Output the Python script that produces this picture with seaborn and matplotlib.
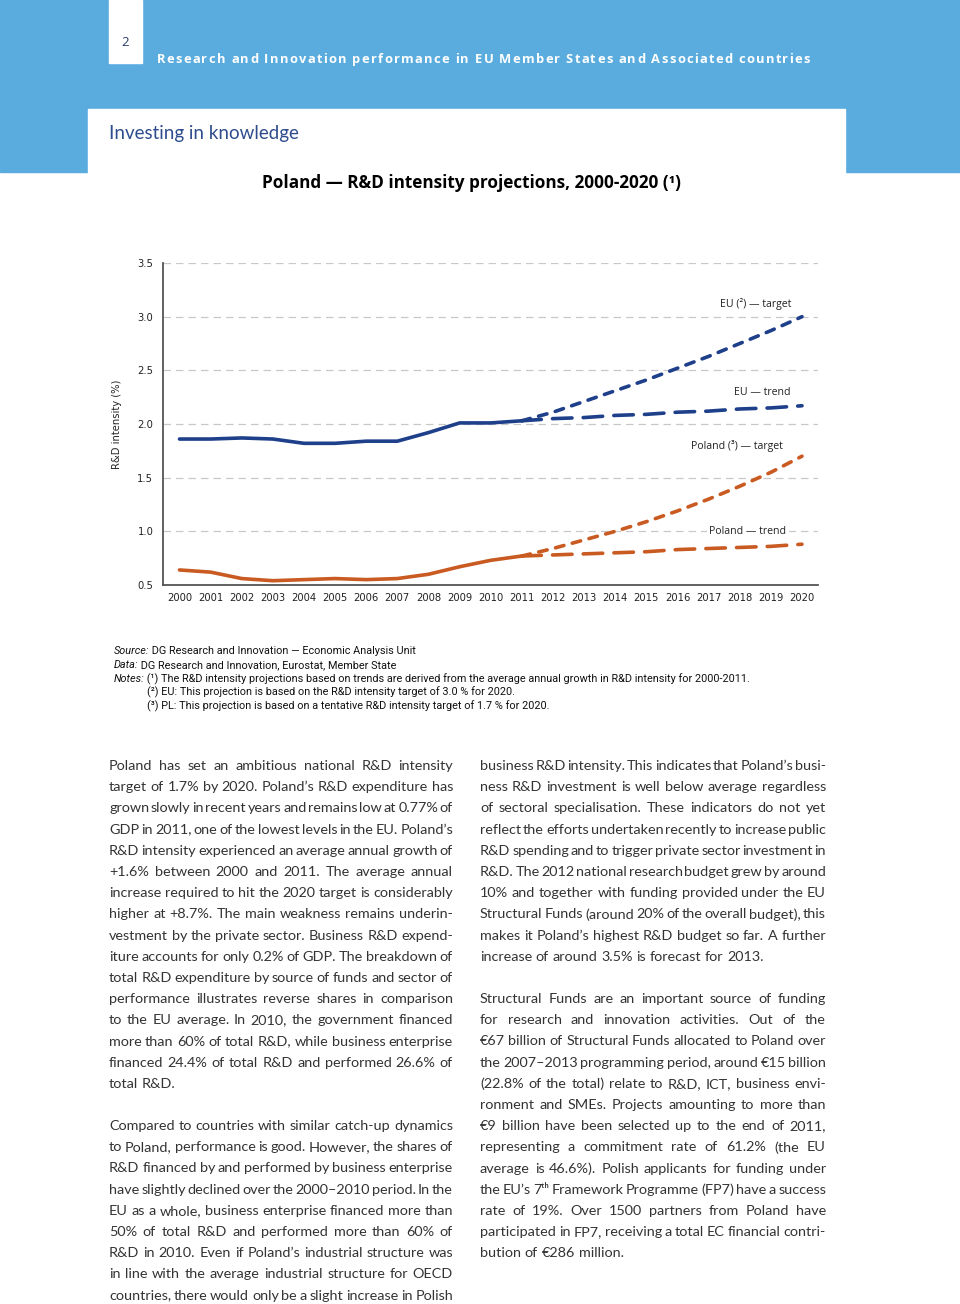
import matplotlib
matplotlib.use("Agg")
import matplotlib.pyplot as plt
from matplotlib.patches import Rectangle
import seaborn as sns
import pandas as pd

# ---------------- data ----------------
hist_years = list(range(2000, 2012))
proj_years = list(range(2011, 2021))
all_years = list(range(2000, 2021))
eu_hist = [1.86, 1.86, 1.87, 1.86, 1.82, 1.82, 1.84, 1.84, 1.92, 2.01, 2.01, 2.03]
pl_hist = [0.64, 0.62, 0.56, 0.54, 0.55, 0.56, 0.55, 0.56, 0.60, 0.67, 0.73, 0.77]
eu_target = [2.03, 2.11, 2.21, 2.31, 2.41, 2.52, 2.63, 2.75, 2.87, 3.00]
eu_trend = [2.03, 2.05, 2.06, 2.08, 2.09, 2.11, 2.12, 2.14, 2.15, 2.17]
pl_target = [0.77, 0.84, 0.92, 1.00, 1.09, 1.19, 1.30, 1.42, 1.55, 1.70]
pl_trend = [0.77, 0.78, 0.79, 0.80, 0.81, 0.83, 0.84, 0.85, 0.86, 0.88]
y_ticks = [0.5, 1.0, 1.5, 2.0, 2.5, 3.0, 3.5]
y_tick_labels = ["0.5", "1.0", "1.5", "2.0", "2.5", "3.0", "3.5"]
x_tick_labels = [str(y) for y in all_years]

series_labels = [
    ("EU (²) — target", 2019.65, 3.12),
    ("EU — trend", 2019.62, 2.29),
    ("Poland (³) — target", 2019.4, 1.795),
    ("Poland — trend", 2019.5, 1.00),
]

header_text = "Research and Innovation performance in EU Member States and Associated countries"
section_title = "Investing in knowledge"
chart_title = "Poland — R&D intensity projections, 2000-2020 (¹)"

left_col = [
    ["Poland has set an ambitious national R&D intensity",
     "target of 1.7% by 2020. Poland’s R&D expenditure has",
     "grown slowly in recent years and remains low at 0.77% of",
     "GDP in 2011, one of the lowest levels in the EU. Poland’s",
     "R&D intensity experienced an average annual growth of",
     "+1.6% between 2000 and 2011. The average annual",
     "increase required to hit the 2020 target is considerably",
     "higher at +8.7%. The main weakness remains underin-",
     "vestment by the private sector. Business R&D expend-",
     "iture accounts for only 0.2% of GDP. The breakdown of",
     "total R&D expenditure by source of funds and sector of",
     "performance illustrates reverse shares in comparison",
     "to the EU average. In 2010, the government financed",
     "more than 60% of total R&D, while business enterprise",
     "financed 24.4% of total R&D and performed 26.6% of",
     "total R&D."],
    ["Compared to countries with similar catch-up dynamics",
     "to Poland, performance is good. However, the shares of",
     "R&D financed by and performed by business enterprise",
     "have slightly declined over the 2000–2010 period. In the",
     "EU as a whole, business enterprise financed more than",
     "50% of total R&D and performed more than 60% of",
     "R&D in 2010. Even if Poland’s industrial structure was",
     "in line with the average industrial structure for OECD",
     "countries, there would only be a slight increase in Polish"],
]
right_col = [
    ["business R&D intensity. This indicates that Poland’s busi-",
     "ness R&D investment is well below average regardless",
     "of sectoral specialisation. These indicators do not yet",
     "reflect the efforts undertaken recently to increase public",
     "R&D spending and to trigger private sector investment in",
     "R&D. The 2012 national research budget grew by around",
     "10% and together with funding provided under the EU",
     "Structural Funds (around 20% of the overall budget), this",
     "makes it Poland’s highest R&D budget so far. A further",
     "increase of around 3.5% is forecast for 2013."],
    ["Structural Funds are an important source of funding",
     "for research and innovation activities. Out of the",
     "€67 billion of Structural Funds allocated to Poland over",
     "the 2007–2013 programming period, around €15 billion",
     "(22.8% of the total) relate to R&D, ICT, business envi-",
     "ronment and SMEs. Projects amounting to more than",
     "€9 billion have been selected up to the end of 2011,",
     "representing a commitment rate of 61.2% (the EU",
     "average is 46.6%). Polish applicants for funding under",
     "the EU’s 7ᵗʰ Framework Programme (FP7) have a success",
     "rate of 19%. Over 1500 partners from Poland have",
     "participated in FP7, receiving a total EC financial contri-",
     "bution of €286 million."],
]
notes = [
    [("Source:", True), (" DG Research and Innovation — Economic Analysis Unit", False)],
    [("Data:", True), (" DG Research and Innovation, Eurostat, Member State", False)],
    [("Notes:", True), (" (¹) The R&D intensity projections based on trends are derived from the average annual growth in R&D intensity for 2000-2011.", False)],
    [("(²) EU: This projection is based on the R&D intensity target of 3.0 % for 2020.", False)],
    [("(³) PL: This projection is based on a tentative R&D intensity target of 1.7 % for 2020.", False)],
]

# ---------------- styles ----------------
BLUE_BG = "#5AACDF"
EU_C = "#1E3F8A"
PL_C = "#C95A21"
NAVY = "#2E4C8E"
BODY_C = "#333333"

sns.set_style("white")
plt.rcParams["font.family"] = ["Lato", "DejaVu Sans"]

W, H = 960, 1304
fig = plt.figure(figsize=(W / 100, H / 100), dpi=100)
renderer = fig.canvas.get_renderer()


def fx(x):
    return x / W


def fy(y):
    return 1 - y / H


def measure(s, **kw):
    t = fig.text(0, 0, s, **kw)
    w = t.get_window_extent(renderer).width
    t.remove()
    return w


def advance(s, **kw):
    return measure("H" + s + "H", **kw) - measure("HH", **kw)


# ---------------- background ----------------
fig.patches.append(Rectangle((0, fy(172)), 1, 172 / H, transform=fig.transFigure,
                             color=BLUE_BG, zorder=0))
fig.patches.append(Rectangle((fx(88), fy(173)), (845 - 88) / W, (173 - 109) / H,
                             transform=fig.transFigure, color="white", zorder=1))
fig.patches.append(Rectangle((fx(109), fy(63)), 33 / W, 63 / H,
                             transform=fig.transFigure, color="white", zorder=1))
fig.text(fx(125.5), fy(43), "2", ha="center", va="center", fontsize=9.5,
         color="#2b3f6a", family=["Open Sans", "DejaVu Sans"], zorder=3)

# tracked header
hdr_kw = dict(fontsize=9.3, fontweight="bold", family=["Open Sans", "DejaVu Sans"])
adv_cache = {}
base = measure("HH", **hdr_kw)
for ch in set(header_text):
    adv_cache[ch] = measure("H" + ch + "H", **hdr_kw) - base
total = sum(adv_cache[c] for c in header_text)
track = (810 - 157 - total) / (len(header_text) - 1)
x = 157
for ch in header_text:
    if ch != " ":
        fig.text(fx(x), fy(59.5), ch, ha="left", va="center", color="white", zorder=3, **hdr_kw)
    x += adv_cache[ch] + track

# section title
st_kw = dict(fontweight="normal", family=["Lato", "DejaVu Sans"])
st_size = 15 * 190 / measure(section_title, fontsize=15, **st_kw)
fig.text(fx(109), fy(134), section_title, ha="left", va="center", color=NAVY,
         fontsize=st_size, zorder=3, **st_kw)

# chart title
ct_kw = dict(fontweight="bold", family=["Open Sans", "DejaVu Sans"])
ct_size = 11 * 418 / measure(chart_title, fontsize=11, **ct_kw)
fig.text(fx(471), fy(183), chart_title, ha="center", va="center", color="black",
         fontsize=ct_size, **ct_kw)

# ---------------- chart ----------------
ax = fig.add_axes([163 / W, 1 - 585 / H, 655 / W, 322 / H])
frames = [
    pd.DataFrame({"year": hist_years, "value": eu_hist, "series": "EU"}),
    pd.DataFrame({"year": proj_years, "value": eu_trend, "series": "EU trend"}),
    pd.DataFrame({"year": proj_years, "value": eu_target, "series": "EU target"}),
    pd.DataFrame({"year": hist_years, "value": pl_hist, "series": "Poland"}),
    pd.DataFrame({"year": proj_years, "value": pl_trend, "series": "Poland trend"}),
    pd.DataFrame({"year": proj_years, "value": pl_target, "series": "Poland target"}),
]
df = pd.concat(frames, ignore_index=True)
palette = {"EU": EU_C, "EU trend": EU_C, "EU target": EU_C,
           "Poland": PL_C, "Poland trend": PL_C, "Poland target": PL_C}
dashes = {"EU": "", "EU trend": (5.4, 3.1), "EU target": (2.4, 2.4),
          "Poland": "", "Poland trend": (5.4, 3.1), "Poland target": (2.4, 2.4)}
sns.lineplot(data=df, x="year", y="value", hue="series", style="series",
             palette=palette, dashes=dashes, linewidth=2.6, legend=False,
             estimator=None, ax=ax, zorder=3)
for ln in ax.lines:
    ln.set_dash_capstyle("round")
    ln.set_solid_capstyle("round")
    ln.set_solid_joinstyle("round")

ax.set_xlim(1999.47, 2020.514)
ax.set_ylim(0.5, 3.5)
ax.set_xticks(all_years)
ax.set_xticklabels(x_tick_labels)
ax.set_yticks(y_ticks)
ax.set_yticklabels(y_tick_labels)
tick_font = ["DejaVu Sans"]
for lab in ax.get_xticklabels() + ax.get_yticklabels():
    lab.set_family(tick_font)
    lab.set_fontsize(7.2)
    lab.set_color("#222222")
ax.tick_params(axis="x", length=0, pad=5.5)
ax.tick_params(axis="y", length=4, width=0.8, color="#555555", pad=3, direction="out")
ax.yaxis.grid(True, linestyle=(0, (6, 4)), color="#c8c8c8", linewidth=0.9, zorder=0)
ax.xaxis.grid(False)
ax.set_axisbelow(True)
for side in ["top", "right"]:
    ax.spines[side].set_visible(False)
for side in ["left", "bottom"]:
    ax.spines[side].set_color("#555555")
    ax.spines[side].set_linewidth(1.3)
ax.set_xlabel("")
ax.set_ylabel("R&D intensity (%)", fontsize=7.2, family=tick_font, color="#222222")
ax.yaxis.label.set_va("center")
ax.yaxis.set_label_coords((117 - 163) / 655, 0.5)

for txt, xv, yv in series_labels:
    kw = {}
    if "Poland — trend" in txt:
        kw["bbox"] = dict(facecolor="white", edgecolor="none", pad=1.5)
    ax.text(xv, yv, txt, ha="right", va="center", fontsize=7.6,
            family=["Open Sans", "DejaVu Sans"], color="#222222", zorder=4, **kw)

# ---------------- notes ----------------
note_family = ["Roboto", "DejaVu Sans"]
line3 = "".join(s for s, _ in notes[2])
note_size = 7.5 * (750 - 114) / measure(line3, fontsize=7.5, family=note_family)
note_ys = [651, 665, 679, 692, 706]
note_xs = [114, 114, 114, 147, 147]
for segs, yv, x0 in zip(notes, note_ys, note_xs):
    x = x0
    for s, it in segs:
        kw = dict(fontsize=note_size, family=note_family, style="italic" if it else "normal")
        fig.text(fx(x), fy(yv), s, ha="left", va="center", color="#111111", **kw)
        x += advance(s, **kw) - (0.8 if it else 0)

# ---------------- body text ----------------
body_family = ["Lato", "DejaVu Sans"]
body_size = 10.4
LS = 21.2


def draw_par(lines, x0, y0, width, last_justified=False):
    y = y0
    for i, line in enumerate(lines):
        words = line.split(" ")
        size = body_size
        kw = dict(fontsize=size, family=body_family)
        widths = [measure(w, **kw) for w in words]
        sp = advance(" ", **kw)
        need = sum(widths) + 0.55 * sp * (len(words) - 1)
        if need > width:
            size = body_size * width / need
            kw = dict(fontsize=size, family=body_family)
            widths = [measure(w, **kw) for w in words]
            sp = advance(" ", **kw)
        is_last = (i == len(lines) - 1) and not last_justified
        if is_last or len(words) == 1:
            gap = sp
        else:
            gap = (width - sum(widths)) / (len(words) - 1)
        x = x0
        for w, ww in zip(words, widths):
            fig.text(fx(x), fy(y), w, ha="left", va="center", color=BODY_C, **kw)
            x += ww + gap
        y += LS
    return y


draw_par(left_col[0], 109, 766, 344)
draw_par(left_col[1], 109, 1126, 344, last_justified=True)
draw_par(right_col[0], 480, 766, 346)
draw_par(right_col[1], 480, 999, 346)

fig.savefig("out.png", dpi=100)
